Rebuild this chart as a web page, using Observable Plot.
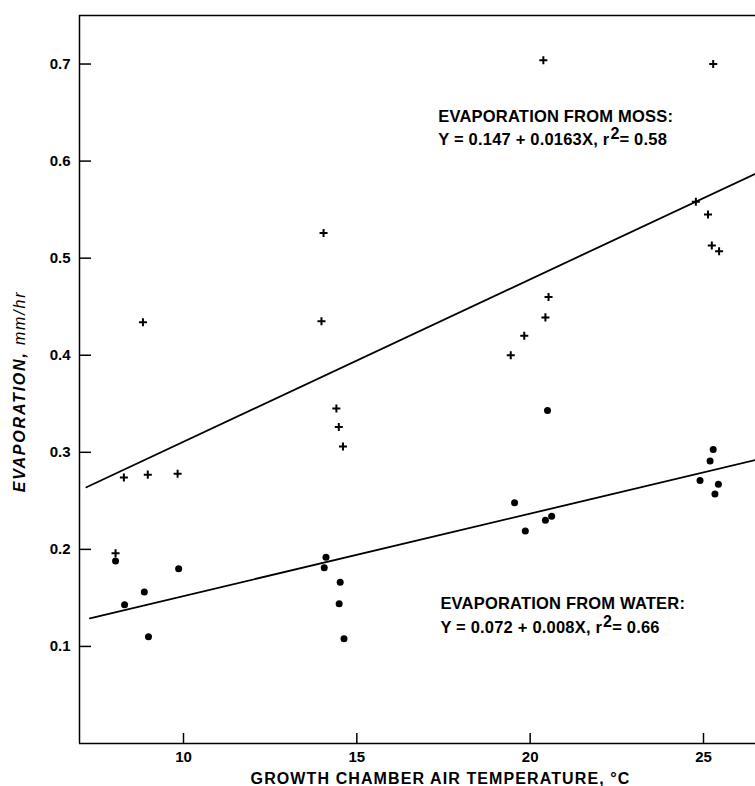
<!DOCTYPE html>
<html><head><meta charset="utf-8">
<script src="https://cdn.jsdelivr.net/npm/d3@7"></script>
<script src="https://cdn.jsdelivr.net/npm/@observablehq/plot@0.6"></script>
<style>
body{margin:0;background:#fff} svg{display:block}
</style>
</head><body><div id="chart"></div>
<script>
// Evaporation from moss (+)
const mossTemp = [8.04, 8.28, 8.83, 8.97, 9.83, 13.98, 14.04, 14.41, 14.48, 14.60, 19.44, 19.83, 20.38, 20.44, 20.53, 24.78, 25.13, 25.24, 25.28, 25.45];
const mossEvap = [0.196, 0.274, 0.434, 0.277, 0.278, 0.435, 0.526, 0.345, 0.326, 0.306, 0.400, 0.420, 0.704, 0.439, 0.460, 0.558, 0.545, 0.513, 0.700, 0.507];
// Evaporation from water (•)
const waterTemp = [8.04, 8.30, 8.87, 8.99, 9.86, 14.06, 14.11, 14.49, 14.52, 14.63, 19.55, 19.86, 20.44, 20.50, 20.62, 24.90, 25.19, 25.28, 25.33, 25.43];
const waterEvap = [0.188, 0.143, 0.156, 0.110, 0.180, 0.181, 0.192, 0.144, 0.166, 0.108, 0.248, 0.219, 0.230, 0.343, 0.234, 0.271, 0.291, 0.303, 0.257, 0.267];
// Regression lines (end points as drawn)
const mossLineTemp = [7.2, 26.5];
const mossLineEvap = [0.264, 0.587];
const waterLineTemp = [7.3, 26.5];
const waterLineEvap = [0.129, 0.292];
// Axes
const xDomain = [7, 26.5];
const yDomain = [0, 0.75];
const xTicks = [10, 15, 20, 25];
const yTicks = [0.1, 0.2, 0.3, 0.4, 0.5, 0.6, 0.7];
const xTitle = "GROWTH CHAMBER AIR TEMPERATURE, °C";
const yTitle = "EVAPORATION, mm/hr";
// Annotations
const annotText = ["EVAPORATION FROM MOSS:", "Y = 0.147 + 0.0163X, r² = 0.58", "EVAPORATION FROM WATER:", "Y = 0.072 + 0.008X, r² = 0.66"];
const annotTemp = [17.35, 17.35, 17.41, 17.41];
const annotEvap = [0.6403, 0.6171, 0.1381, 0.1134];

const moss = mossTemp.map((t, i) => ({t, e: mossEvap[i]}));
const water = waterTemp.map((t, i) => ({t, e: waterEvap[i]}));
const mossLine = mossLineTemp.map((t, i) => ({t, e: mossLineEvap[i]}));
const waterLine = waterLineTemp.map((t, i) => ({t, e: waterLineEvap[i]}));
const annots = annotText.map((s, i) => ({s, t: annotTemp[i], e: annotEvap[i]}));

const svg = Plot.plot({
  width: 755, height: 786,
  marginLeft: 79, marginRight: 0, marginTop: 15, marginBottom: 43,
  style: {fontFamily: "'Liberation Sans', Arial, Helvetica, sans-serif", fontSize: "14px", fontWeight: "bold", color: "#000", background: "#fff", overflow: "visible"},
  x: {domain: xDomain, axis: null},
  y: {domain: yDomain, axis: null},
  marks: [
    Plot.ruleX([xDomain[0]], {strokeWidth: 1.5}),
    Plot.ruleY([yDomain[0], yDomain[1]], {strokeWidth: 1.5}),
    Plot.axisY(yTicks, {anchor: "left", tickSize: -12, fill: "none", label: null, strokeWidth: 1.5}),
    Plot.axisX(xTicks, {anchor: "bottom", tickSize: -10, fill: "none", label: null, strokeWidth: 1.5}),
    Plot.text(yTicks, {x: xDomain[0], y: d => d, text: d => d3.format(".1f")(d), textAnchor: "end", dx: -9, fontSize: 15}),
    Plot.text(xTicks, {x: d => d, y: yDomain[0], text: d => String(d), lineAnchor: "top", dy: 8, fontSize: 15}),
    Plot.line(mossLine, {x: "t", y: "e", strokeWidth: 1.8}),
    Plot.line(waterLine, {x: "t", y: "e", strokeWidth: 1.8}),
    Plot.dot(water, {x: "t", y: "e", r: 3.5, fill: "black"}),
    Plot.dot(moss, {x: "t", y: "e", symbol: "plus", r: 2.7, stroke: "black", strokeWidth: 2}),
    Plot.text(annots, {x: "t", y: "e", text: "s", textAnchor: "start", lineAnchor: "bottom", fontSize: 16.5}),
    Plot.text([xTitle], {text: d => d, frameAnchor: "bottom", textAnchor: "middle", dx: 23, dy: 40, lineAnchor: "bottom", fontSize: 16}),
    Plot.text([yTitle], {text: d => d, frameAnchor: "left", textAnchor: "middle", dx: -60, dy: 12, rotate: -90, fontSize: 16})
  ]
});

const sel = d3.select(svg);
sel.selectAll("text").each(function() {
  const txt = this.textContent;
  const el = d3.select(this);
  if (txt === xTitle) {
    el.style("letter-spacing", "1.1px");
  } else if (txt === yTitle) {
    el.text(null).style("font-style", "italic").style("letter-spacing", "1.8px");
    el.append("tspan").attr("font-weight", "bold").text("EVAPORATION,");
    el.append("tspan").attr("font-weight", "normal").text(" mm/hr");
  } else if (annotText.includes(txt)) {
    el.style("letter-spacing", "0.2px");
    if (txt.includes("²")) {
      const [a, b] = txt.split("²");
      el.text(null);
      el.append("tspan").text(a);
      el.append("tspan").attr("dx", "1").attr("dy", "-6").attr("font-size", 16).text("2");
      el.append("tspan").attr("dy", "6").text(b.replace(/^ /, ""));
    }
  }
});
document.getElementById("chart").appendChild(svg);
</script>
</body></html>
